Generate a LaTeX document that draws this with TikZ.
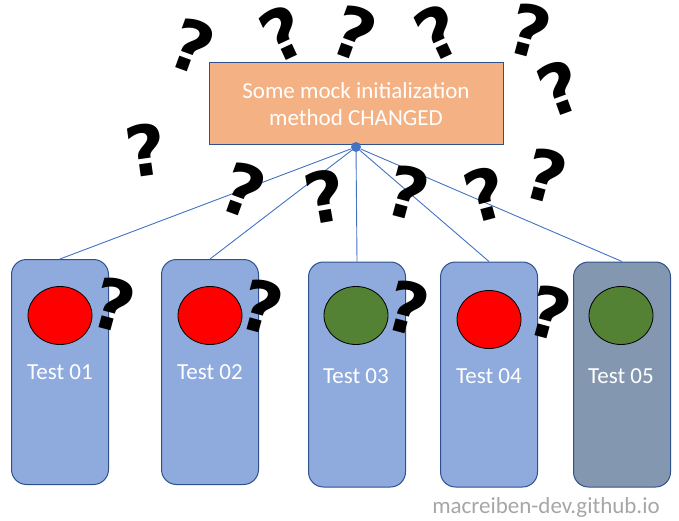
\documentclass[tikz,border=0pt]{standalone}
\usepackage{fontspec}
\setmainfont{Carlito}
\newfontfamily\qmfont{DejaVu Sans}
\usepackage{xcolor}
\usetikzlibrary{positioning}

\definecolor{mockfill}{HTML}{F4B183}
\definecolor{edgeblue}{HTML}{2F528F}
\definecolor{linkblue}{HTML}{4472C4}
\definecolor{testfill}{HTML}{8FAADC}
\definecolor{testgray}{HTML}{8497B0}
\definecolor{failred}{HTML}{FF0000}
\definecolor{passgreen}{HTML}{548235}
\definecolor{markgray}{HTML}{A6A6A6}

\begin{document}
\begin{tikzpicture}[
    x=1pt,
    y=-1pt,
    mockbox/.style={
        draw=edgeblue,
        fill=mockfill,
        line width=1pt,
        minimum width=294pt,
        minimum height=82pt,
        align=center,
        text=white,
        font=\fontsize{23}{27}\selectfont
    },
    testbox/.style={
        draw=edgeblue,
        fill=testfill,
        line width=1pt,
        rounded corners=15pt,
        minimum width=97pt,
        minimum height=225pt
    },
    result/.style={
        ellipse,
        draw=black,
        line width=0.8pt,
        minimum width=64pt,
        minimum height=58pt
    },
    testlabel/.style={
        text=white,
        font=\fontsize{23}{26}\selectfont
    },
    link/.style={draw=linkblue,line width=0.9pt},
    qmark/.style={
        inner sep=0pt,
        font=\qmfont\bfseries\fontsize{70}{70}\selectfont
    }
]
\usetikzlibrary{shapes.geometric}

\useasboundingbox (0,0) rectangle (679,521);

% ---------------------------------------------------------
% Changed initialization method
% ---------------------------------------------------------

\node[mockbox] (mock) at (356,104)
{Some mock initialization\\method CHANGED};

\node[
    circle,
    fill=linkblue,
    inner sep=0pt,
    minimum size=10pt
] (hub) at (356,147) {};

% ---------------------------------------------------------
% Tests
% ---------------------------------------------------------

\node[testbox] (t1) at (60,372) {};
\node[testbox] (t2) at (210,372) {};
\node[testbox] (t3) at (357,374.5) {};
\node[testbox] (t4) at (489,374.5) {};
\node[testbox,fill=testgray] (t5) at (622,374.5) {};

\node[result,fill=failred] (r1) at (60,315.5) {};
\node[result,fill=failred] (r2) at (210,315.5) {};
\node[result,fill=passgreen] (r3) at (356,315.5) {};
\node[result,fill=failred] (r4) at (489,319.5) {};
\node[result,fill=passgreen] (r5) at (621,315.5) {};

\node[testlabel] (l1) at (60,372) {Test 01};
\node[testlabel] (l2) at (210,372) {Test 02};
\node[testlabel] (l3) at (356,376) {Test 03};
\node[testlabel] (l4) at (489,376) {Test 04};
\node[testlabel] (l5) at (621,376) {Test 05};

% links from the changed method
\foreach \t in {t1,t2,t3,t4,t5}
    \draw[link] (hub) -- (\t.north);

% ---------------------------------------------------------
% Question marks
% ---------------------------------------------------------

\node[qmark,rotate=-20] (q1) at (192,46) {?};
\node[qmark,rotate=25] (q2) at (283,33) {?};
\node[qmark,rotate=-20] (q3) at (354,33) {?};
\node[qmark,rotate=25] (q4) at (438,32) {?};
\node[qmark,rotate=-15] (q5) at (530,31) {?};
\node[qmark,rotate=20] (q6) at (560,88) {?};
\node[qmark,rotate=8] (q7) at (146,150) {?};
\node[qmark,rotate=-20] (q8) at (243,190) {?};
\node[qmark,rotate=10] (q9) at (325,196) {?};
\node[qmark,rotate=-15] (q10) at (408,193) {?};
\node[qmark,rotate=15] (q11) at (485,194) {?};
\node[qmark,rotate=-15] (q12) at (546,176) {?};

\node[qmark,rotate=-15] (q13) at (114,305) {?};
\node[qmark,rotate=-15] (q14) at (262,307) {?};
\node[qmark,rotate=-15] (q15) at (408,308) {?};
\node[qmark,rotate=-15] (q16) at (550,313) {?};

% Blog address
\node[
    text=markgray,
    font=\fontsize{23}{26}\selectfont
] (site) at (546,507) {macreiben-dev.github.io};

\end{tikzpicture}
\end{document}
